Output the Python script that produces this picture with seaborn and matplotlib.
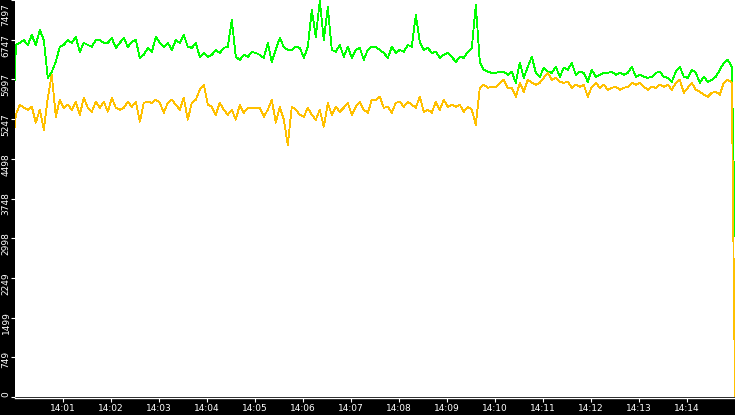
import numpy as np
import pandas as pd
import matplotlib
matplotlib.use("Agg")
import matplotlib.pyplot as plt
import matplotlib.transforms as mtransforms
import seaborn as sns

# seconds after 14:00:00 for every sample
seconds = [0] + list(range(1, 900, 5)) + [900]

green = [5990,
    6649, 6687, 6743, 6649, 6838, 6649, 6932, 6743, 6027, 6141, 6329, 6612, 6649, 6743, 6687,
    6800, 6517, 6687, 6649, 6612, 6743, 6743, 6687, 6687, 6781, 6593, 6687, 6781, 6612, 6706,
    6743, 6404, 6461, 6593, 6517, 6800, 6687, 6612, 6687, 6555, 6743, 6687, 6838, 6612, 6593,
    6687, 6423, 6498, 6423, 6461, 6555, 6498, 6593, 6612, 7120, 6423, 6367, 6461, 6423, 6517,
    6498, 6461, 6404, 6687, 6329, 6555, 6781, 6612, 6555, 6555, 6612, 6593, 6404, 6612, 7309,
    6800, 7480, 6743, 7365, 6555, 6517, 6649, 6423, 6612, 6404, 6555, 6593, 6367, 6555, 6612,
    6612, 6555, 6498, 6404, 6612, 6498, 6555, 6517, 6649, 6612, 7214, 6706, 6555, 6593, 6498,
    6517, 6404, 6461, 6498, 6423, 6329, 6423, 6404, 6517, 6593, 7403, 6329, 6178, 6141, 6122,
    6122, 6141, 6141, 6084, 6141, 5933, 6310, 6027, 6235, 6423, 6122, 6046, 6216, 6141, 6122,
    6235, 6046, 6216, 6178, 6310, 6084, 6141, 6122, 5952, 6178, 6046, 6084, 6122, 6122, 6141,
    6084, 6122, 6084, 6122, 6235, 6046, 6084, 6046, 6027, 6046, 6122, 6141, 6046, 6027, 5952,
    6141, 6235, 6046, 6027, 6178, 6122, 5933, 6046, 5952, 5990, 6046, 6178, 6310, 6367, 6235,
    3032]

orange = [5104,
    5330, 5519, 5462, 5425, 5481, 5180, 5425, 5048, 5651, 6084, 5293, 5613, 5462, 5519, 5425,
    5575, 5330, 5651, 5462, 5387, 5575, 5462, 5575, 5387, 5651, 5462, 5425, 5462, 5575, 5481,
    5575, 5198, 5556, 5575, 5556, 5613, 5556, 5368, 5556, 5613, 5519, 5425, 5651, 5236, 5556,
    5613, 5801, 5896, 5519, 5481, 5330, 5556, 5425, 5330, 5425, 5236, 5519, 5368, 5462, 5462,
    5462, 5462, 5293, 5425, 5613, 5180, 5481, 5236, 4765, 5481, 5425, 5330, 5293, 5462, 5330,
    5236, 5425, 5104, 5556, 5330, 5481, 5387, 5462, 5556, 5330, 5481, 5575, 5425, 5368, 5613,
    5613, 5670, 5462, 5481, 5368, 5556, 5575, 5481, 5575, 5519, 5462, 5670, 5387, 5425, 5368,
    5575, 5425, 5613, 5481, 5519, 5481, 5519, 5387, 5481, 5425, 5142, 5839, 5896, 5839, 5858,
    5858, 5933, 5990, 5839, 5839, 5670, 5933, 5764, 5990, 5933, 5896, 5933, 6027, 6122, 5990,
    6027, 5952, 5933, 5952, 5839, 5896, 5858, 5896, 5670, 5858, 5933, 5839, 5896, 5801, 5839,
    5858, 5801, 5839, 5858, 5933, 5896, 5933, 5858, 5801, 5858, 5839, 5896, 5858, 5896, 5801,
    5933, 5990, 5745, 5839, 5933, 5801, 5764, 5707, 5670, 5745, 5764, 5707, 5933, 5990, 5933,
    0]

series_names = ["green", "orange"]
series_colors = {"green": "#00ff00", "orange": "#ffc000"}

ytick_labels = ["0", "749", "1499", "2249", "2998", "3748", "4498",
                "5247", "5997", "6747", "7497"]
xtick_labels = ["14:01", "14:02", "14:03", "14:04", "14:05", "14:06", "14:07",
                "14:08", "14:09", "14:10", "14:11", "14:12", "14:13", "14:14"]

base = pd.Timestamp("2024-01-01 14:00:00")
times = base + pd.to_timedelta(seconds, unit="s")

df = pd.concat([
    pd.DataFrame({"time": times, "value": green, "series": "green"}),
    pd.DataFrame({"time": times, "value": orange, "series": "orange"}),
], ignore_index=True)

fig = plt.figure(figsize=(7.35, 4.15), dpi=100, facecolor="black")
ax = fig.add_axes([15 / 735, 18 / 415, 720 / 735, 397 / 415])
ax.set_facecolor("white")

sns.lineplot(data=df, x="time", y="value", hue="series", hue_order=series_names,
             palette=series_colors, legend=False, linewidth=0.6, ax=ax,
             antialiased=False, estimator=None, sort=False)

ymax = float(ytick_labels[-1])
ax.set_xlim(base, base + pd.Timedelta(seconds=900))
ax.set_ylim(0, ymax)

yt = np.linspace(0, ymax, len(ytick_labels))
ax.set_yticks(yt)
ax.set_yticklabels([])
xt = [pd.Timestamp(f"2024-01-01 {s}:00") for s in xtick_labels]
ax.set_xticks(xt)
ax.set_xticklabels(xtick_labels)

# rotated y labels: top of text a few px above the tick, reading upward
ytrans = ax.get_yaxis_transform()
for i, (pos, lab) in enumerate(zip(yt, ytick_labels)):
    dy = 6 if i < len(ytick_labels) - 1 else -3
    tr = ytrans + mtransforms.ScaledTranslation(0, dy / 100, fig.dpi_scale_trans)
    ax.text(-9 / 720, pos, lab, transform=tr, rotation=90, ha="center", va="top",
            color="white", fontsize=6.5, clip_on=False)

for s in ["top", "right", "left"]:
    ax.spines[s].set_visible(False)
ax.spines["bottom"].set_color("white")
ax.spines["bottom"].set_linewidth(1.0)
ax.spines["bottom"].set_position(("outward", 1))

ax.tick_params(axis="both", colors="white", labelcolor="white", length=3,
               width=0.8, labelsize=6.5, pad=1)
ax.set_xlabel("")
ax.set_ylabel("")
ax.grid(False)

fig.savefig("out.png", dpi=100, facecolor="black")
